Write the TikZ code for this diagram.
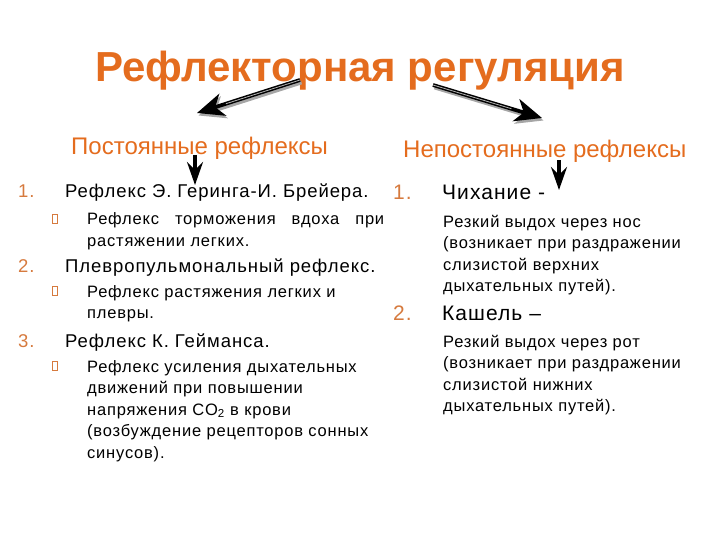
\documentclass[tikz,border=0pt]{standalone}
\usepackage{fontspec}
\setmainfont{Liberation Sans}
\newfontfamily\itmfont[LetterSpace=5]{Liberation Sans}
\newfontfamily\subfont[LetterSpace=4.8]{Liberation Sans}
\usetikzlibrary{arrows.meta,calc}
\definecolor{org}{RGB}{228,108,30}
\definecolor{numorg}{RGB}{214,122,62}
\begin{document}
\begin{tikzpicture}[x=1pt,y=-1pt,
  ttl/.style={font=\fontsize{42}{42}\selectfont\bfseries, text=org, inner sep=0, anchor=base},
  hd/.style={font=\fontsize{24}{24}\selectfont, text=org, inner sep=0, anchor=base west},
  num/.style={font=\itmfont\fontsize{18.5}{18.5}\selectfont, text=numorg, inner sep=0, anchor=base west},
  itm/.style={font=\itmfont\fontsize{18.5}{18.5}\selectfont, inner sep=0, anchor=base west},
  rnum/.style={font=\itmfont\fontsize{21}{21}\selectfont, text=numorg, inner sep=0, anchor=base west},
  ritm/.style={font=\itmfont\fontsize{21}{21}\selectfont, inner sep=0, anchor=base west},
  sub/.style={font=\subfont\fontsize{16.5}{16.5}\selectfont, inner sep=0, anchor=base west},
  bul/.style={draw=numorg, line width=0.7, minimum width=5, minimum height=9, inner sep=0},
  bigarr/.style={line width=3.8, -{Stealth[length=27,width=23,inset=8]}},
  shadarr/.style={line width=3.8, draw=black!35, -{Stealth[length=27,width=23,inset=8]}},
  smallarr/.style={line width=3.2, -{Stealth[length=23,width=16,inset=8]}},
]
\useasboundingbox (0,0) rectangle (720,540);

% title and headings
\node[ttl] (title) at (360,82) {Рефлекторная регуляция};
\node[hd] (hl) at (71,155) {Постоянные рефлексы};
\node[hd] (hr) at (403,158) {Непостоянные рефлексы};

% big arrows
\coordinate (a1s) at (300,80);
\coordinate (a1e) at (197,113);
\coordinate (a2s) at (433,85);
\coordinate (a2e) at (542,118);
\draw[shadarr] ($(a1s)+(1.5,2.5)$) -- ($(a1e)+(1.5,2.5)$);
\draw[shadarr] ($(a2s)+(1.5,2.5)$) -- ($(a2e)+(1.5,2.5)$);
\draw[bigarr] (a1s) -- (a1e);
\draw[bigarr] (a2s) -- (a2e);
\draw[white!70!black, line width=0.8] (a1s) -- ($(a1s)!0.72!(a1e)$);
\draw[white!70!black, line width=0.8] (a2s) -- ($(a2s)!0.72!(a2e)$);

% small arrows
\coordinate (s1s) at (195,155);
\coordinate (s1e) at (195,185);
\coordinate (s2s) at (559,160);
\coordinate (s2e) at (559,190);
\draw[smallarr] (s1s) -- (s1e);
\draw[smallarr] (s2s) -- (s2e);

% left column
\node[num] (n1) at (18,198) {1.};
\node[itm] (i1) at (65,198) {Рефлекс Э. Геринга-И. Брейера.};
\node[bul] (b1) at (55,219) {};
\node[sub] (l1a) at (87,225) {\makebox[297pt][s]{Рефлекс торможения вдоха при}};
\node[sub] (l1b) at (87,246.5) {растяжении легких.};

\node[num] (n2) at (18,272) {2.};
\node[itm] (i2) at (65,272) {Плевропульмональный рефлекс.};
\node[bul] (b2) at (55,291) {};
\node[sub] (l2a) at (87,297) {Рефлекс растяжения легких и};
\node[sub] (l2b) at (87,318.5) {плевры.};

\node[num] (n3) at (18,347) {3.};
\node[itm] (i3) at (65,347) {Рефлекс К. Гейманса.};
\node[bul] (b3) at (55,366) {};
\node[sub] (l3a) at (87,372) {Рефлекс усиления дыхательных};
\node[sub] (l3b) at (87,393.5) {движений при повышении};
\node[sub] (l3c) at (87,415) {напряжения CO\textsubscript{2} в крови};
\node[sub] (l3d) at (87,436.5) {(возбуждение рецепторов сонных};
\node[sub] (l3e) at (87,458) {синусов).};

% right column
\node[rnum] (r1) at (393,200) {1.};
\node[ritm] (ch) at (442,200) {Чихание -};
\node[sub] (c1) at (443,227) {Резкий выдох через нос};
\node[sub] (c2) at (443,248.5) {(возникает при раздражении};
\node[sub] (c3) at (443,270) {слизистой верхних};
\node[sub] (c4) at (443,291.5) {дыхательных путей).};

\node[rnum] (r2) at (393,320) {2.};
\node[ritm] (ka) at (442,320) {Кашель –};
\node[sub] (k1) at (443,347) {Резкий выдох через рот};
\node[sub] (k2) at (443,368.5) {(возникает при раздражении};
\node[sub] (k3) at (443,390) {слизистой нижних};
\node[sub] (k4) at (443,411.5) {дыхательных путей).};
\end{tikzpicture}
\end{document}
